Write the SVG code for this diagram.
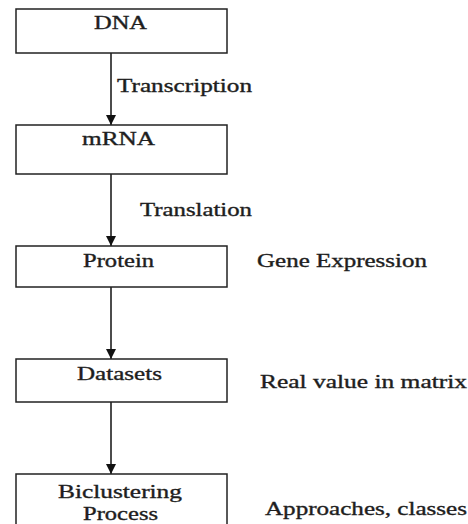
<svg xmlns="http://www.w3.org/2000/svg" width="468" height="524" viewBox="0 0 468 524">
<style>
.box{fill:#fff;stroke:#222;stroke-width:1.5}
.t{font-family:"Liberation Serif","Times New Roman",serif;font-size:18px;fill:#1e1e1e;stroke:#1e1e1e;stroke-width:0.35}
.ln{stroke:#111;stroke-width:1.5;fill:none}
</style>
<defs>
<marker id="ah" viewBox="0 0 10 10" refX="10" refY="5" markerWidth="10" markerHeight="10" markerUnits="userSpaceOnUse" orient="auto">
<path d="M0,0 L10,5 L0,10 z" fill="#111"/>
</marker>
</defs>
<rect width="468" height="524" fill="#fff"/>
<g id="connectors">
<line class="ln" x1="111" y1="53" x2="111" y2="125" marker-end="url(#ah)"/>
<line class="ln" x1="111" y1="174" x2="111" y2="246" marker-end="url(#ah)"/>
<line class="ln" x1="111" y1="287" x2="111" y2="359" marker-end="url(#ah)"/>
<line class="ln" x1="111" y1="402" x2="111" y2="474" marker-end="url(#ah)"/>
<text class="t" x="117" y="92" textLength="135" lengthAdjust="spacingAndGlyphs">Transcription</text>
<text class="t" x="140" y="216" textLength="112" lengthAdjust="spacingAndGlyphs">Translation</text>
</g>
<g id="dna">
<rect class="box" x="16" y="9" width="211" height="44"/>
<text class="t" x="94" y="29" textLength="53" lengthAdjust="spacingAndGlyphs">DNA</text>
</g>
<g id="mrna">
<rect class="box" x="16" y="125" width="211" height="49"/>
<text class="t" x="82" y="145" textLength="73" lengthAdjust="spacingAndGlyphs">mRNA</text>
</g>
<g id="protein">
<rect class="box" x="16" y="246" width="211" height="41"/>
<text class="t" x="83" y="267" textLength="71" lengthAdjust="spacingAndGlyphs">Protein</text>
</g>
<g id="gene-expression">
<text class="t" x="257" y="267" textLength="170" lengthAdjust="spacingAndGlyphs">Gene Expression</text>
</g>
<g id="datasets">
<rect class="box" x="16" y="359" width="211" height="43"/>
<text class="t" x="77" y="380" textLength="85" lengthAdjust="spacingAndGlyphs">Datasets</text>
</g>
<g id="real-value">
<text class="t" x="260" y="388" textLength="207" lengthAdjust="spacingAndGlyphs">Real value in matrix</text>
</g>
<g id="biclustering">
<rect class="box" x="16" y="474" width="211" height="60"/>
<text class="t" x="58" y="498" textLength="124" lengthAdjust="spacingAndGlyphs">Biclustering</text>
<text class="t" x="83" y="520" textLength="75" lengthAdjust="spacingAndGlyphs">Process</text>
</g>
<g id="approaches">
<text class="t" x="265" y="515" textLength="202" lengthAdjust="spacingAndGlyphs">Approaches, classes</text>
</g>
</svg>
